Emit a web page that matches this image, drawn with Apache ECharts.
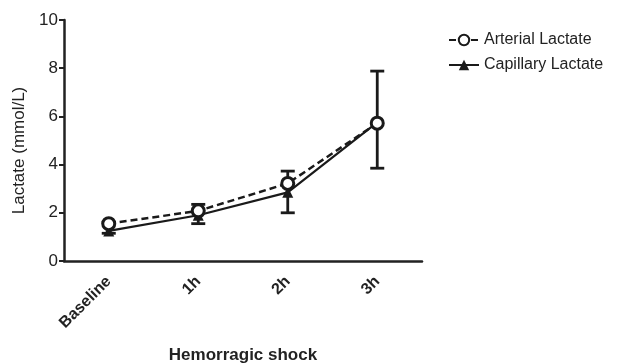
<!DOCTYPE html>
<html><head><meta charset="utf-8">
<script src="https://cdn.jsdelivr.net/npm/echarts@6/dist/echarts.min.js"></script>
<style>html,body{margin:0;padding:0;background:#fff}#c{width:637px;height:364px}</style>
</head><body><div id="c"></div>
<script>
var categories = ['Baseline', '1h', '2h', '3h'];
var arterial = [1.55, 2.08, 3.22, 5.72];
var capillary = [1.25, 1.9, 2.85, 5.75];
// error bar ends
var arterialUpper = [1.6, 2.35, 3.73, 7.88];
var capillaryLower = [1.15, 1.55, 2.0, 3.85];
var yTicks = [0, 2, 4, 6, 8, 10];

var chart = echarts.init(document.getElementById('c'));
function errBar(ends, means) {
  return {
    type: 'custom',
    z: 1,
    silent: true,
    data: means.map(function (m, i) { return [i, m, ends[i]]; }),
    renderItem: function (params, api) {
      var p0 = api.coord([api.value(0), api.value(1)]);
      var p1 = api.coord([api.value(0), api.value(2)]);
      var hw = 7;
      var st = { stroke: '#1a1a1a', lineWidth: 2.8 };
      return { type: 'group', children: [
        { type: 'line', shape: { x1: p0[0], y1: p0[1], x2: p1[0], y2: p1[1] }, style: st },
        { type: 'line', shape: { x1: p1[0] - hw, y1: p1[1], x2: p1[0] + hw, y2: p1[1] }, style: st }
      ]};
    }
  };
}
chart.setOption({
  animation: false,
  textStyle: { fontFamily: 'Liberation Sans, Arial, sans-serif' },
  grid: { left: 64, right: 215, top: 20, bottom: 103, containLabel: false, outerBoundsMode: 'none' },
  legend: {
    orient: 'vertical', left: 443, top: 27, itemGap: 9, itemWidth: 30, itemHeight: 13,
    textStyle: { fontSize: 16, color: '#222' },
    data: ['Arterial Lactate', 'Capillary Lactate']
  },
  xAxis: {
    type: 'category', data: categories, boundaryGap: true,
    name: 'Hemorragic shock', nameLocation: 'middle', nameGap: 86,
    nameTextStyle: { fontSize: 17, fontWeight: 'bold', color: '#222' },
    axisLine: { lineStyle: { color: '#222', width: 2.5 } },
    axisTick: { alignWithLabel: true, length: 6, lineStyle: { width: 2, color: '#222' } },
    axisLabel: { rotate: 45, fontSize: 16, fontWeight: 'bold', color: '#222', margin: 18 },
    splitLine: { show: false }
  },
  yAxis: {
    type: 'value', min: 0, max: 10, interval: 2,
    name: 'Lactate (mmol/L)', nameLocation: 'middle', nameGap: 34,
    nameTextStyle: { fontSize: 17, color: '#222', padding: [0, 20, 0, 0] },
    axisLine: { show: true, lineStyle: { color: '#222', width: 2.5 } },
    axisTick: { show: true, length: 5, lineStyle: { width: 2, color: '#222' } },
    axisLabel: { fontSize: 17, color: '#222', margin: 6,
      formatter: function (v) { return yTicks.indexOf(v) >= 0 ? String(v) : ''; } },
    splitLine: { show: false }
  },
  series: [
    errBar(arterialUpper, arterial),
    errBar(capillaryLower, capillary),
    {
      name: 'Arterial Lactate', type: 'line', data: arterial, z: 3,
      symbol: 'circle', symbolSize: 12,
      lineStyle: { color: '#1a1a1a', width: 2.5, type: [7, 4] },
      itemStyle: { color: '#fff', borderColor: '#1a1a1a', borderWidth: 3 }
    },
    {
      name: 'Capillary Lactate', type: 'line', data: capillary, z: 2,
      symbol: 'triangle', symbolSize: 11,
      lineStyle: { color: '#1a1a1a', width: 2.2 },
      itemStyle: { color: '#1a1a1a' }
    }
  ]
});
</script></body></html>
